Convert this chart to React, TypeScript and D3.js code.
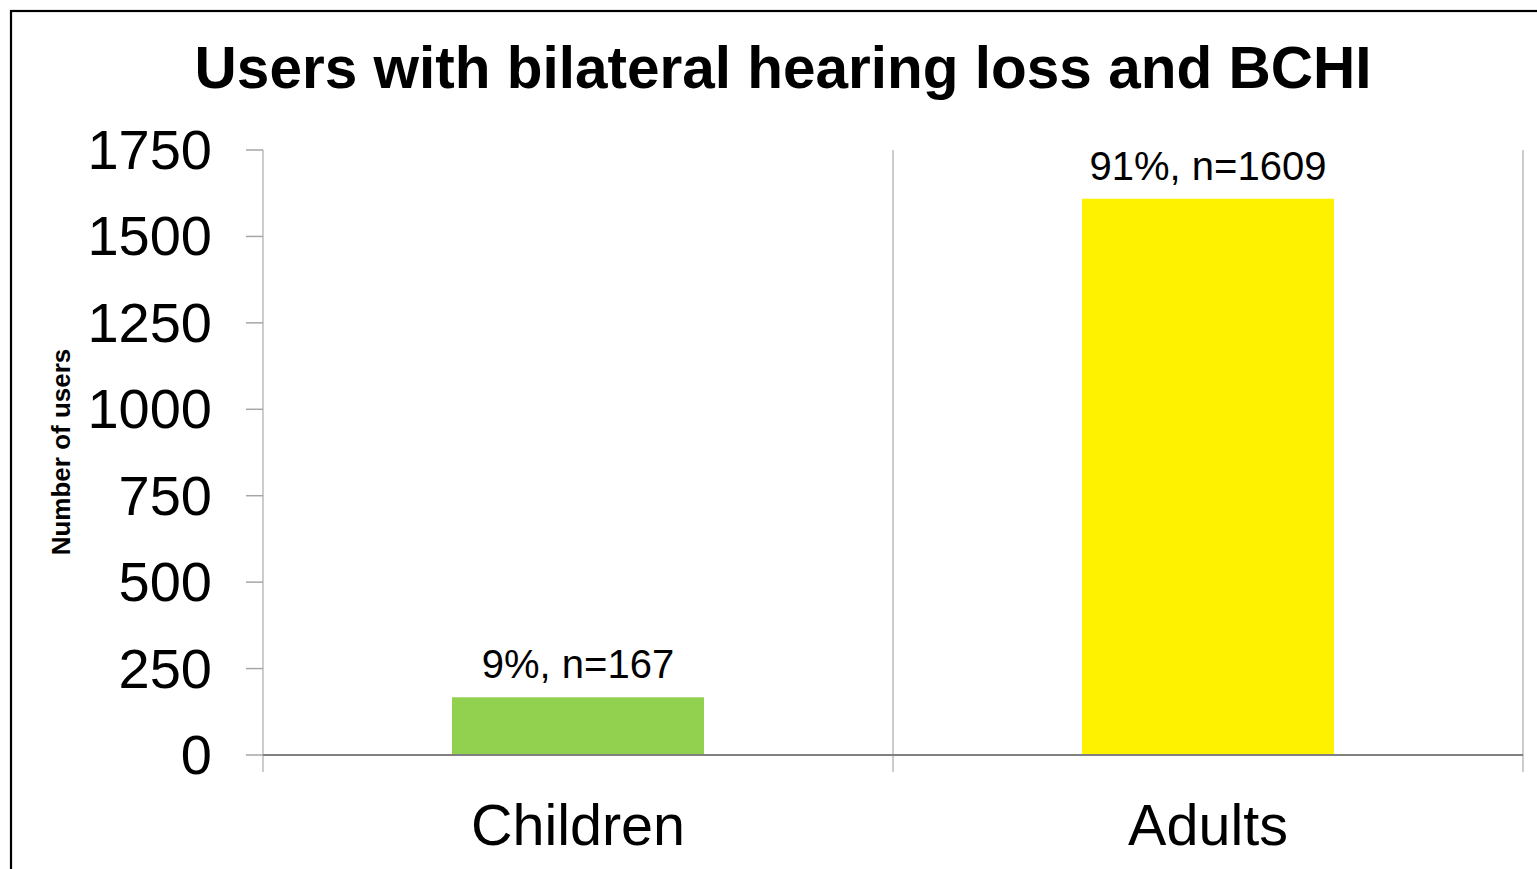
import { range, scaleBand, scaleLinear } from "d3";

const categories = ["Children", "Adults"];
const users = [167, 1609];
const barLabels = ["9%, n=167", "91%, n=1609"];
const barColors = ["#92d050", "#fff200"];
const yTicks = range(0, 1751, 250);

const width = 1537;
const height = 869;
const plot = { left: 263, right: 1523, top: 150, bottom: 755 };
const font = "'Liberation Sans', Arial, sans-serif";

export default function App(): React.JSX.Element {
  const x = scaleBand<string>()
    .domain(categories)
    .range([plot.left, plot.right])
    .padding(0);
  const y = scaleLinear().domain([0, 1750]).range([plot.bottom, plot.top]);
  const bw = x.bandwidth();
  const boundaries = [plot.left, ...categories.map((c) => (x(c) ?? 0) + bw)];

  return (
    <svg
      width={width}
      height={height}
      viewBox={`0 0 ${width} ${height}`}
      style={{ position: "fixed", left: 0, top: 0, background: "#fff" }}
      fontFamily={font}
    >
      <rect x={11} y={11} width={width + 20} height={height + 20} fill="#fff" stroke="#000" strokeWidth={2.2} />

      <text x={783} y={88} textAnchor="middle" fontSize={58.5} fontWeight="bold">
        Users with bilateral hearing loss and BCHI
      </text>

      {/* vertical separators between categories */}
      {boundaries.slice(1).map((bx) => (
        <line key={bx} x1={bx} x2={bx} y1={plot.top} y2={plot.bottom + 17} stroke="#bdbdbd" strokeWidth={1.5} />
      ))}

      {/* y axis */}
      <line x1={plot.left} x2={plot.left} y1={plot.top} y2={plot.bottom + 17} stroke="#bdbdbd" strokeWidth={1.5} />
      {yTicks.map((t) => (
        <g key={t}>
          <line x1={plot.left - 17} x2={plot.left} y1={y(t)} y2={y(t)} stroke="#a6a6a6" strokeWidth={1.5} />
          <text x={212} y={y(t) + 19} textAnchor="end" fontSize={56}>
            {t}
          </text>
        </g>
      ))}

      {categories.map((c, i) => {
        const x0 = (x(c) ?? 0) + bw * 0.3;
        return (
          <g key={c}>
            <rect x={x0} y={y(users[i])} width={bw * 0.4} height={plot.bottom - y(users[i])} fill={barColors[i]} />
            <text x={x0 + bw * 0.2} y={y(users[i]) - 19} textAnchor="middle" fontSize={40}>
              {barLabels[i]}
            </text>
            <text x={x0 + bw * 0.2} y={845} textAnchor="middle" fontSize={57.5}>
              {c}
            </text>
          </g>
        );
      })}

      {/* x axis */}
      <line x1={plot.left} x2={plot.right} y1={plot.bottom} y2={plot.bottom} stroke="#808080" strokeWidth={1.8} />

      <text
        transform="translate(70,452) rotate(-90)"
        textAnchor="middle"
        fontSize={26}
        fontWeight="bold"
      >
        Number of users
      </text>
    </svg>
  );
}
